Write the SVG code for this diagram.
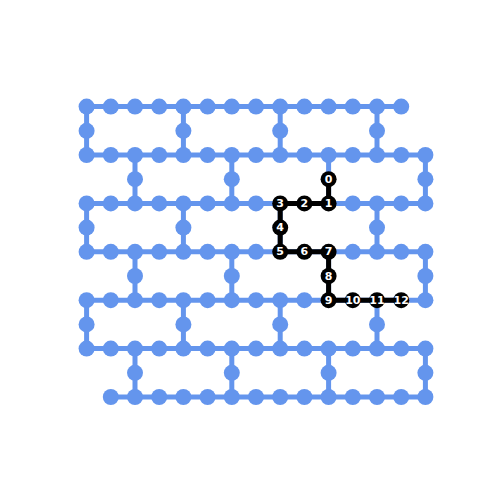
<svg xmlns="http://www.w3.org/2000/svg" width="500" height="500" viewBox="0 0 500 500">
<style>
.e{stroke:#6495ed;stroke-width:5;fill:none}
.p{stroke:#000;stroke-width:5;fill:none;stroke-linejoin:round}
.n{fill:#6495ed}
.b{fill:#000}
.t{fill:#fff;font-family:"DejaVu Sans",sans-serif;font-weight:bold;font-size:11px;text-anchor:middle;dominant-baseline:central}
</style>
<rect width="500" height="500" fill="#fff"/>
<g id="connectors">
<line class="e" x1="86.6" y1="106.6" x2="401.2" y2="106.6"/>
<line class="e" x1="86.6" y1="155" x2="425.4" y2="155"/>
<line class="e" x1="86.6" y1="203.4" x2="425.4" y2="203.4"/>
<line class="e" x1="86.6" y1="251.8" x2="425.4" y2="251.8"/>
<line class="e" x1="86.6" y1="300.2" x2="425.4" y2="300.2"/>
<line class="e" x1="86.6" y1="348.6" x2="425.4" y2="348.6"/>
<line class="e" x1="110.8" y1="397" x2="425.4" y2="397"/>
<line class="e" x1="86.6" y1="106.6" x2="86.6" y2="155"/>
<line class="e" x1="183.4" y1="106.6" x2="183.4" y2="155"/>
<line class="e" x1="280.2" y1="106.6" x2="280.2" y2="155"/>
<line class="e" x1="377" y1="106.6" x2="377" y2="155"/>
<line class="e" x1="135" y1="155" x2="135" y2="203.4"/>
<line class="e" x1="231.8" y1="155" x2="231.8" y2="203.4"/>
<line class="e" x1="328.6" y1="155" x2="328.6" y2="203.4"/>
<line class="e" x1="425.4" y1="155" x2="425.4" y2="203.4"/>
<line class="e" x1="86.6" y1="203.4" x2="86.6" y2="251.8"/>
<line class="e" x1="183.4" y1="203.4" x2="183.4" y2="251.8"/>
<line class="e" x1="280.2" y1="203.4" x2="280.2" y2="251.8"/>
<line class="e" x1="377" y1="203.4" x2="377" y2="251.8"/>
<line class="e" x1="135" y1="251.8" x2="135" y2="300.2"/>
<line class="e" x1="231.8" y1="251.8" x2="231.8" y2="300.2"/>
<line class="e" x1="328.6" y1="251.8" x2="328.6" y2="300.2"/>
<line class="e" x1="425.4" y1="251.8" x2="425.4" y2="300.2"/>
<line class="e" x1="86.6" y1="300.2" x2="86.6" y2="348.6"/>
<line class="e" x1="183.4" y1="300.2" x2="183.4" y2="348.6"/>
<line class="e" x1="280.2" y1="300.2" x2="280.2" y2="348.6"/>
<line class="e" x1="377" y1="300.2" x2="377" y2="348.6"/>
<line class="e" x1="135" y1="348.6" x2="135" y2="397"/>
<line class="e" x1="231.8" y1="348.6" x2="231.8" y2="397"/>
<line class="e" x1="328.6" y1="348.6" x2="328.6" y2="397"/>
<line class="e" x1="425.4" y1="348.6" x2="425.4" y2="397"/>
<polyline class="p" points="328.6,179.2 328.6,203.4 280.2,203.4 280.2,251.8 328.6,251.8 328.6,300.2 401.2,300.2"/>
</g>
<g id="nodes">
<g id="r0"><circle class="n" cx="86.6" cy="106.6" r="8"/><circle class="n" cx="110.8" cy="106.6" r="8"/><circle class="n" cx="135" cy="106.6" r="8"/><circle class="n" cx="159.2" cy="106.6" r="8"/><circle class="n" cx="183.4" cy="106.6" r="8"/><circle class="n" cx="207.6" cy="106.6" r="8"/><circle class="n" cx="231.8" cy="106.6" r="8"/><circle class="n" cx="256" cy="106.6" r="8"/><circle class="n" cx="280.2" cy="106.6" r="8"/><circle class="n" cx="304.4" cy="106.6" r="8"/><circle class="n" cx="328.6" cy="106.6" r="8"/><circle class="n" cx="352.8" cy="106.6" r="8"/><circle class="n" cx="377" cy="106.6" r="8"/><circle class="n" cx="401.2" cy="106.6" r="8"/></g>
<g id="r1"><circle class="n" cx="86.6" cy="130.8" r="8"/><circle class="n" cx="183.4" cy="130.8" r="8"/><circle class="n" cx="280.2" cy="130.8" r="8"/><circle class="n" cx="377" cy="130.8" r="8"/></g>
<g id="r2"><circle class="n" cx="86.6" cy="155" r="8"/><circle class="n" cx="110.8" cy="155" r="8"/><circle class="n" cx="135" cy="155" r="8"/><circle class="n" cx="159.2" cy="155" r="8"/><circle class="n" cx="183.4" cy="155" r="8"/><circle class="n" cx="207.6" cy="155" r="8"/><circle class="n" cx="231.8" cy="155" r="8"/><circle class="n" cx="256" cy="155" r="8"/><circle class="n" cx="280.2" cy="155" r="8"/><circle class="n" cx="304.4" cy="155" r="8"/><circle class="n" cx="328.6" cy="155" r="8"/><circle class="n" cx="352.8" cy="155" r="8"/><circle class="n" cx="377" cy="155" r="8"/><circle class="n" cx="401.2" cy="155" r="8"/><circle class="n" cx="425.4" cy="155" r="8"/></g>
<g id="r3"><circle class="n" cx="135" cy="179.2" r="8"/><circle class="n" cx="231.8" cy="179.2" r="8"/><circle class="n" cx="425.4" cy="179.2" r="8"/></g>
<g id="r4"><circle class="n" cx="86.6" cy="203.4" r="8"/><circle class="n" cx="110.8" cy="203.4" r="8"/><circle class="n" cx="135" cy="203.4" r="8"/><circle class="n" cx="159.2" cy="203.4" r="8"/><circle class="n" cx="183.4" cy="203.4" r="8"/><circle class="n" cx="207.6" cy="203.4" r="8"/><circle class="n" cx="231.8" cy="203.4" r="8"/><circle class="n" cx="256" cy="203.4" r="8"/><circle class="n" cx="352.8" cy="203.4" r="8"/><circle class="n" cx="377" cy="203.4" r="8"/><circle class="n" cx="401.2" cy="203.4" r="8"/><circle class="n" cx="425.4" cy="203.4" r="8"/></g>
<g id="r5"><circle class="n" cx="86.6" cy="227.6" r="8"/><circle class="n" cx="183.4" cy="227.6" r="8"/><circle class="n" cx="377" cy="227.6" r="8"/></g>
<g id="r6"><circle class="n" cx="86.6" cy="251.8" r="8"/><circle class="n" cx="110.8" cy="251.8" r="8"/><circle class="n" cx="135" cy="251.8" r="8"/><circle class="n" cx="159.2" cy="251.8" r="8"/><circle class="n" cx="183.4" cy="251.8" r="8"/><circle class="n" cx="207.6" cy="251.8" r="8"/><circle class="n" cx="231.8" cy="251.8" r="8"/><circle class="n" cx="256" cy="251.8" r="8"/><circle class="n" cx="352.8" cy="251.8" r="8"/><circle class="n" cx="377" cy="251.8" r="8"/><circle class="n" cx="401.2" cy="251.8" r="8"/><circle class="n" cx="425.4" cy="251.8" r="8"/></g>
<g id="r7"><circle class="n" cx="135" cy="276" r="8"/><circle class="n" cx="231.8" cy="276" r="8"/><circle class="n" cx="425.4" cy="276" r="8"/></g>
<g id="r8"><circle class="n" cx="86.6" cy="300.2" r="8"/><circle class="n" cx="110.8" cy="300.2" r="8"/><circle class="n" cx="135" cy="300.2" r="8"/><circle class="n" cx="159.2" cy="300.2" r="8"/><circle class="n" cx="183.4" cy="300.2" r="8"/><circle class="n" cx="207.6" cy="300.2" r="8"/><circle class="n" cx="231.8" cy="300.2" r="8"/><circle class="n" cx="256" cy="300.2" r="8"/><circle class="n" cx="280.2" cy="300.2" r="8"/><circle class="n" cx="304.4" cy="300.2" r="8"/><circle class="n" cx="425.4" cy="300.2" r="8"/></g>
<g id="r9"><circle class="n" cx="86.6" cy="324.4" r="8"/><circle class="n" cx="183.4" cy="324.4" r="8"/><circle class="n" cx="280.2" cy="324.4" r="8"/><circle class="n" cx="377" cy="324.4" r="8"/></g>
<g id="r10"><circle class="n" cx="86.6" cy="348.6" r="8"/><circle class="n" cx="110.8" cy="348.6" r="8"/><circle class="n" cx="135" cy="348.6" r="8"/><circle class="n" cx="159.2" cy="348.6" r="8"/><circle class="n" cx="183.4" cy="348.6" r="8"/><circle class="n" cx="207.6" cy="348.6" r="8"/><circle class="n" cx="231.8" cy="348.6" r="8"/><circle class="n" cx="256" cy="348.6" r="8"/><circle class="n" cx="280.2" cy="348.6" r="8"/><circle class="n" cx="304.4" cy="348.6" r="8"/><circle class="n" cx="328.6" cy="348.6" r="8"/><circle class="n" cx="352.8" cy="348.6" r="8"/><circle class="n" cx="377" cy="348.6" r="8"/><circle class="n" cx="401.2" cy="348.6" r="8"/><circle class="n" cx="425.4" cy="348.6" r="8"/></g>
<g id="r11"><circle class="n" cx="135" cy="372.8" r="8"/><circle class="n" cx="231.8" cy="372.8" r="8"/><circle class="n" cx="328.6" cy="372.8" r="8"/><circle class="n" cx="425.4" cy="372.8" r="8"/></g>
<g id="r12"><circle class="n" cx="110.8" cy="397" r="8"/><circle class="n" cx="135" cy="397" r="8"/><circle class="n" cx="159.2" cy="397" r="8"/><circle class="n" cx="183.4" cy="397" r="8"/><circle class="n" cx="207.6" cy="397" r="8"/><circle class="n" cx="231.8" cy="397" r="8"/><circle class="n" cx="256" cy="397" r="8"/><circle class="n" cx="280.2" cy="397" r="8"/><circle class="n" cx="304.4" cy="397" r="8"/><circle class="n" cx="328.6" cy="397" r="8"/><circle class="n" cx="352.8" cy="397" r="8"/><circle class="n" cx="377" cy="397" r="8"/><circle class="n" cx="401.2" cy="397" r="8"/><circle class="n" cx="425.4" cy="397" r="8"/></g>
</g>
<g id="path-nodes">
<g id="q0"><circle class="b" cx="328.6" cy="179.2" r="8"/><text class="t" x="328.6" y="179.2">0</text></g>
<g id="q1"><circle class="b" cx="328.6" cy="203.4" r="8"/><text class="t" x="328.6" y="203.4">1</text></g>
<g id="q2"><circle class="b" cx="304.4" cy="203.4" r="8"/><text class="t" x="304.4" y="203.4">2</text></g>
<g id="q3"><circle class="b" cx="280.2" cy="203.4" r="8"/><text class="t" x="280.2" y="203.4">3</text></g>
<g id="q4"><circle class="b" cx="280.2" cy="227.6" r="8"/><text class="t" x="280.2" y="227.6">4</text></g>
<g id="q5"><circle class="b" cx="280.2" cy="251.8" r="8"/><text class="t" x="280.2" y="251.8">5</text></g>
<g id="q6"><circle class="b" cx="304.4" cy="251.8" r="8"/><text class="t" x="304.4" y="251.8">6</text></g>
<g id="q7"><circle class="b" cx="328.6" cy="251.8" r="8"/><text class="t" x="328.6" y="251.8">7</text></g>
<g id="q8"><circle class="b" cx="328.6" cy="276" r="8"/><text class="t" x="328.6" y="276">8</text></g>
<g id="q9"><circle class="b" cx="328.6" cy="300.2" r="8"/><text class="t" x="328.6" y="300.2">9</text></g>
<g id="q10"><circle class="b" cx="352.8" cy="300.2" r="8"/><text class="t" x="352.8" y="300.2">10</text></g>
<g id="q11"><circle class="b" cx="377" cy="300.2" r="8"/><text class="t" x="377" y="300.2">11</text></g>
<g id="q12"><circle class="b" cx="401.2" cy="300.2" r="8"/><text class="t" x="401.2" y="300.2">12</text></g>
</g>
</svg>
